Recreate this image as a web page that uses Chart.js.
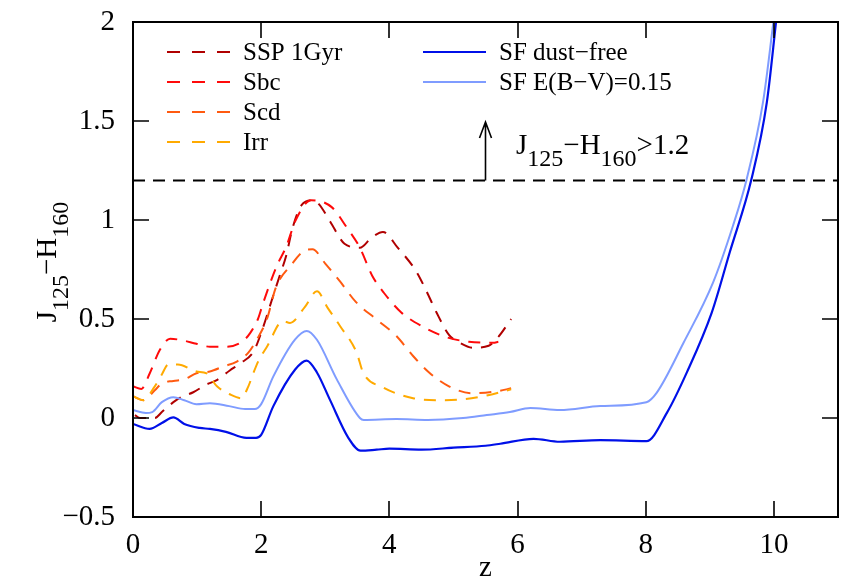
<!DOCTYPE html>
<html><head><meta charset="utf-8">
<script src="https://cdn.jsdelivr.net/npm/chart.js@4"></script>
<style>html,body{margin:0;padding:0;background:#fff}</style>
</head><body>
<canvas id="c" width="848" height="578"></canvas>
<script>
// ---- data ----
const zSSP = [0.03,0.11,0.34,0.45,0.63,0.75,0.94,1.15,1.3,1.51,1.67,1.88,2.0,2.17,2.29,2.39,2.49,2.63,2.8,2.9,3.08,3.3,3.54,3.72,3.9,4.13,4.42,4.58,4.74,4.93,5.1,5.3,5.55,5.7,5.9];
const vSSP = [0.015,0.0,0.0,0.03,0.08,0.105,0.13,0.17,0.19,0.24,0.275,0.335,0.43,0.6,0.72,0.82,0.96,1.075,1.1,1.08,0.99,0.88,0.86,0.91,0.94,0.86,0.74,0.64,0.53,0.42,0.38,0.355,0.365,0.41,0.5];

const zSbc = [0.0,0.13,0.26,0.42,0.58,0.73,0.99,1.2,1.46,1.72,1.83,1.95,2.03,2.24,2.39,2.54,2.78,3.1,3.33,3.54,3.73,3.92,4.19,4.5,4.87,5.24,5.62,5.7];
const vSbc = [0.16,0.147,0.225,0.345,0.40,0.395,0.375,0.36,0.36,0.39,0.43,0.5,0.58,0.765,0.865,1.0,1.1,1.065,0.965,0.86,0.72,0.63,0.532,0.465,0.41,0.385,0.38,0.385];

const zScd = [0.0,0.16,0.34,0.45,0.63,0.8,0.99,1.2,1.41,1.62,1.8,1.93,2.09,2.23,2.46,2.71,2.8,3.0,3.23,3.48,3.8,4.11,4.37,4.62,4.93,5.29,5.68,5.9];
const vScd = [0.11,0.09,0.14,0.175,0.187,0.195,0.226,0.235,0.26,0.285,0.33,0.395,0.5,0.66,0.77,0.85,0.852,0.78,0.69,0.585,0.498,0.414,0.313,0.23,0.16,0.125,0.135,0.15];

const zIrr = [0.0,0.16,0.34,0.45,0.55,0.7,0.99,1.15,1.31,1.51,1.69,1.8,1.87,1.96,2.09,2.34,2.45,2.68,2.87,3.04,3.23,3.49,3.59,3.9,4.37,4.77,5.18,5.54,5.9];
const vIrr = [0.11,0.09,0.16,0.22,0.27,0.27,0.235,0.225,0.16,0.12,0.1,0.16,0.22,0.29,0.36,0.49,0.48,0.56,0.64,0.555,0.465,0.33,0.23,0.155,0.1,0.09,0.095,0.115,0.145];

const zSFdust = [0.0,0.2,0.3,0.45,0.63,0.8,0.99,1.2,1.5,1.75,1.9,2.0,2.19,2.53,2.71,2.87,3.18,3.54,3.6,4.11,4.6,5.15,5.52,5.88,6.2,6.66,7.29,8.01,8.17,8.59,9.05,9.36,9.57,9.83,10.0];
const vSFdust = [0.04,0.025,0.03,0.08,0.105,0.09,0.07,0.075,0.06,0.045,0.045,0.07,0.21,0.397,0.44,0.395,0.195,0.0,-0.01,-0.005,-0.01,0.0,0.015,0.03,0.05,0.04,0.06,0.08,0.127,0.38,0.684,0.97,1.2,1.595,2.02];

const zSFfree = [0.0,0.26,0.45,0.63,0.8,1.04,1.2,1.45,1.77,1.92,2.0,2.19,2.53,2.71,2.87,3.07,3.36,3.55,3.8,4.0,4.5,5.0,5.5,5.73,6.25,6.66,7.29,8.01,8.33,8.64,9.03,9.31,9.65,9.89,10.04];
const vSFfree = [-0.03,-0.055,-0.025,0.003,-0.03,-0.05,-0.055,-0.07,-0.1,-0.1,-0.085,0.06,0.245,0.29,0.23,0.094,-0.1,-0.165,-0.16,-0.155,-0.16,-0.15,-0.14,-0.13,-0.105,-0.12,-0.112,-0.117,0.026,0.229,0.532,0.836,1.207,1.595,2.02];

const cutZ = [0, 11];
const cutV = [1.2, 1.2];

const xTickValues = [0,2,4,6,8,10];
const yTickValues = [-0.5,0,0.5,1,1.5,2];
const seriesNames = ['SSP 1Gyr','Sbc','Scd','Irr','SF dust\u2212free','SF E(B\u2212V)=0.15'];

// ---- styles ----
const COL = {ssp:'#b00000', sbc:'#ff0a0a', scd:'#ff5a10', irr:'#ffaa00', free:'#0010e8', dust:'#7f9cff'};
const SERIF = '"Liberation Serif", "DejaVu Serif", serif';
const pts = (zs, vs) => zs.map((z,i)=>({x:z, y:vs[i]}));
const DASH = [12,9];

const datasets = [
  {label:seriesNames[5], data:pts(zSFdust,vSFdust), borderColor:COL.dust, borderWidth:2},
  {label:seriesNames[4], data:pts(zSFfree,vSFfree), borderColor:COL.free, borderWidth:2.2},
  {label:seriesNames[3], data:pts(zIrr,vIrr), borderColor:COL.irr, borderWidth:2, borderDash:DASH},
  {label:seriesNames[2], data:pts(zScd,vScd), borderColor:COL.scd, borderWidth:2, borderDash:DASH},
  {label:seriesNames[1], data:pts(zSbc,vSbc), borderColor:COL.sbc, borderWidth:2, borderDash:DASH},
  {label:seriesNames[0], data:pts(zSSP,vSSP), borderColor:COL.ssp, borderWidth:2, borderDash:DASH},
  {label:'cut', data:pts(cutZ,cutV), borderColor:'#000', borderWidth:2, borderDash:[12,8], cubicInterpolationMode:'default', tension:0}
].map(d=>Object.assign({pointRadius:0, fill:false, cubicInterpolationMode:'monotone'}, d));

const legendItems = [
  {name:seriesNames[0], color:COL.ssp, dash:true, col:0, row:0},
  {name:seriesNames[1], color:COL.sbc, dash:true, col:0, row:1},
  {name:seriesNames[2], color:COL.scd, dash:true, col:0, row:2},
  {name:seriesNames[3], color:COL.irr, dash:true, col:0, row:3},
  {name:seriesNames[4], color:COL.free, dash:false, col:1, row:0},
  {name:seriesNames[5], color:COL.dust, dash:false, col:1, row:1}
];

function subText(ctx, parts, x, y, big, small, subDrop){
  let cx = x;
  parts.forEach(([t,sub])=>{
    ctx.font = (sub?small:big)+'px '+SERIF;
    ctx.fillText(t, cx, sub? y+subDrop : y);
    cx += ctx.measureText(t).width;
  });
  return cx - x;
}
function measureParts(ctx, parts, big, small){
  let w=0; parts.forEach(([t,sub])=>{ctx.font=(sub?small:big)+'px '+SERIF; w+=ctx.measureText(t).width;}); return w;
}

const decor = {
  id:'decor',
  afterDraw(chart){
    const ctx = chart.ctx, a = chart.chartArea, xs = chart.scales.x, ys = chart.scales.y;
    ctx.save();
    ctx.strokeStyle = '#000'; ctx.lineWidth = 2; ctx.setLineDash([]);
    ctx.strokeRect(a.left, a.top, a.right-a.left, a.bottom-a.top);
    ctx.lineWidth = 1.6;
    ctx.beginPath();
    const TL = 16;
    xTickValues.forEach(v=>{
      const px = Math.round(xs.getPixelForValue(v));
      ctx.moveTo(px, a.bottom); ctx.lineTo(px, a.bottom-TL);
      ctx.moveTo(px, a.top); ctx.lineTo(px, a.top+TL);
    });
    yTickValues.forEach(v=>{
      const py = Math.round(ys.getPixelForValue(v));
      ctx.moveTo(a.left, py); ctx.lineTo(a.left+TL, py);
      ctx.moveTo(a.right, py); ctx.lineTo(a.right-TL, py);
    });
    ctx.stroke();

    // legend
    ctx.textBaseline = 'middle';
    ctx.textAlign = 'left';
    legendItems.forEach(it=>{
      const y = 52 + it.row*30;
      const x0 = it.col===0 ? 167 : 423;
      const x1 = x0 + 63;
      ctx.strokeStyle = it.color; ctx.lineWidth = 2;
      ctx.setLineDash(it.dash ? [13,12] : []);
      ctx.beginPath(); ctx.moveTo(x0, y); ctx.lineTo(x1, y); ctx.stroke();
      ctx.setLineDash([]);
      ctx.fillStyle = '#000';
      ctx.font = '25px '+SERIF;
      ctx.fillText(it.name, x1+13, y+1);
    });

    // arrow at the cut
    const ax = xs.getPixelForValue(5.5), ay0 = ys.getPixelForValue(1.2), ay1 = ys.getPixelForValue(1.5);
    ctx.strokeStyle = '#000'; ctx.lineWidth = 1.6;
    ctx.beginPath();
    ctx.moveTo(ax, ay0); ctx.lineTo(ax, ay1+1);
    ctx.moveTo(ax-6, ay1+17); ctx.lineTo(ax, ay1+1); ctx.lineTo(ax+6, ay1+17);
    ctx.stroke();

    ctx.fillStyle = '#000';
    ctx.textBaseline = 'alphabetic';
    subText(ctx, [['J',false],['125',true],['\u2212H',false],['160',true],['>1.2',false]], 516, 154, 29, 24, 12);

    const yparts = [['J',false],['125',true],['\u2212H',false],['160',true]];
    const w = measureParts(ctx, yparts, 29, 24);
    ctx.save();
    ctx.translate(56, 262);
    ctx.rotate(-Math.PI/2);
    subText(ctx, yparts, -w/2, 0, 29, 24, 12);
    ctx.restore();

    ctx.font = '29px '+SERIF;
    ctx.textAlign = 'center';
    ctx.fillText('z', (a.left+a.right)/2, 576);
    ctx.restore();
  }
};

new Chart(document.getElementById('c'), {
  type:'line',
  data:{datasets},
  options:{
    responsive:false, animation:false, devicePixelRatio:1,
    layout:{padding:{top:22, right:10, left:0, bottom:0}},
    plugins:{legend:{display:false}, tooltip:{enabled:false}},
    scales:{
      x:{type:'linear', min:0, max:11,
         grid:{display:false, drawTicks:false}, border:{display:false},
         afterBuildTicks:(s)=>{s.ticks = xTickValues.map(v=>({value:v}));},
         afterFit:(s)=>{s.height = 61; s.paddingLeft = 0; s.paddingRight = 0;},
         ticks:{color:'#000', padding:11, maxRotation:0, autoSkip:false, font:{family:SERIF, size:29}, callback:(v)=>String(v)}
      },
      y:{type:'linear', min:-0.5, max:2,
         grid:{display:false, drawTicks:false}, border:{display:false},
         afterBuildTicks:(s)=>{s.ticks = yTickValues.map(v=>({value:v}));},
         afterFit:(s)=>{s.width = 133; s.paddingTop = 0; s.paddingBottom = 0;},
         ticks:{color:'#000', padding:18, autoSkip:false, font:{family:SERIF, size:29},
                callback:(v)=> v<0 ? '\u2212'+String(-v) : String(v)}
      }
    }
  },
  plugins:[decor]
});
</script>
</body></html>
